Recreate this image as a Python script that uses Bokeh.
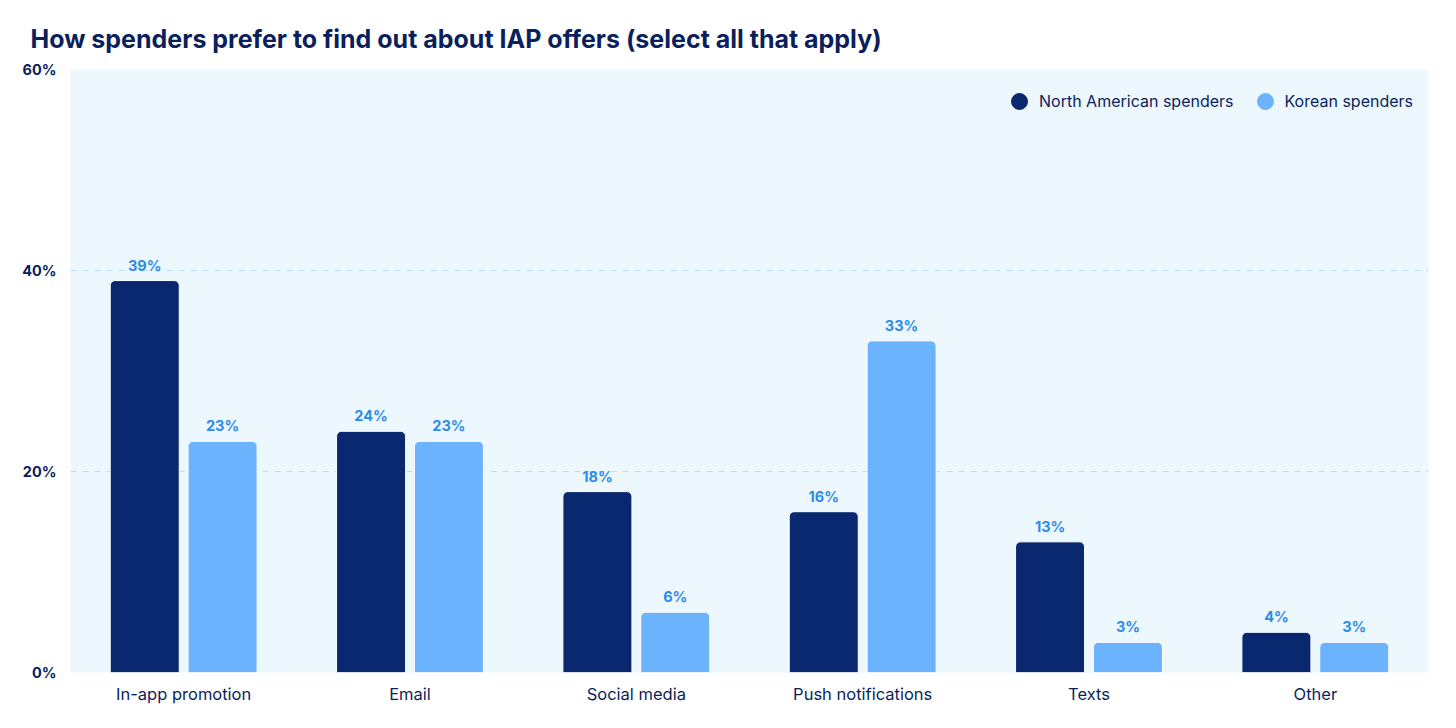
from bokeh.plotting import figure
from bokeh.models import ColumnDataSource, FactorRange, Range1d, Legend, LegendItem, FixedTicker, Title
from bokeh.transform import dodge
from bokeh.core.properties import value
from bokeh.embed import file_html
from bokeh.resources import INLINE

categories = ["In-app promotion", "Email", "Social media", "Push notifications", "Texts", "Other"]
north_american = [39, 24, 18, 16, 13, 4]
korean = [23, 23, 6, 33, 3, 3]
y_ticks = [0, 20, 40, 60]

NAVY = "#0A286F"
LIGHT = "#6BB3FD"
LABEL = "#2D8BEA"
TEXT = "#0B1F5C"
BG = "#EDF7FE"
FONT = "Inter"

source = ColumnDataSource(dict(
    cat=categories,
    na=north_american,
    kr=korean,
    na_lbl=[f"{v}%" for v in north_american],
    kr_lbl=[f"{v}%" for v in korean],
))

p = figure(
    x_range=FactorRange(*categories, range_padding=0),
    y_range=Range1d(0, 60),
    width=1440, height=712,
    output_backend="svg", toolbar_location=None,
    min_border_left=70, min_border_right=12, min_border_bottom=40, min_border_top=69,
)
p.title = Title(text="How spenders prefer to find out about IAP offers (select all that apply)",
                align="left", offset=-40, text_font=FONT, text_font_size="25px",
                text_font_style="bold", text_color=TEXT, standoff=32)

p.background_fill_color = BG
p.border_fill_color = "white"
p.outline_line_color = None

p.xgrid.grid_line_color = None
p.ygrid.grid_line_color = "#BDDCF5"
p.ygrid.grid_line_dash = "6 6"
p.ygrid.grid_line_width = 1
p.ygrid.ticker = FixedTicker(ticks=[20, 40])

p.yaxis.ticker = FixedTicker(ticks=y_ticks)
p.yaxis.major_label_overrides = {t: f"{t}%" for t in y_ticks}
p.yaxis.axis_line_color = None
p.yaxis.major_tick_line_color = None
p.yaxis.minor_tick_line_color = None
p.yaxis.major_label_text_font = FONT
p.yaxis.major_label_text_font_size = "14.5px"
p.yaxis.major_label_text_font_style = "bold"
p.yaxis.major_label_text_color = TEXT
p.yaxis.major_label_standoff = 8

p.xaxis.axis_line_color = None
p.xaxis.major_tick_line_color = None
p.xaxis.minor_tick_line_color = None
p.xaxis.major_label_text_font = FONT
p.xaxis.major_label_text_font_size = "16.5px"
p.xaxis.major_label_text_color = TEXT
p.xaxis.major_label_standoff = 5

p.vbar(x=dodge("cat", -0.172, range=p.x_range), top="na", width=0.305, source=source,
       fill_color=NAVY, line_color="white", line_width=1, border_radius=(5, 5, 0, 0))
p.vbar(x=dodge("cat", 0.172, range=p.x_range), top="kr", width=0.305, source=source,
       fill_color=LIGHT, line_color="white", line_width=1, border_radius=(5, 5, 0, 0))

p.text(x=dodge("cat", -0.172, range=p.x_range), y="na", text="na_lbl", source=source,
       y_offset=-7, text_align="center", text_baseline="bottom",
       text_font=value(FONT), text_font_size="14.5px", text_font_style="bold", text_color=LABEL)
p.text(x=dodge("cat", 0.172, range=p.x_range), y="kr", text="kr_lbl", source=source,
       y_offset=-7, text_align="center", text_baseline="bottom",
       text_font=value(FONT), text_font_size="14.5px", text_font_style="bold", text_color=LABEL)

# legend markers: drawn on a hidden range so only the legend glyphs are visible
p.extra_y_ranges = {"hidden": Range1d(1000, 1001)}
l_na = p.scatter(x="cat", y="na", source=source, size=17, fill_color=NAVY, line_color=NAVY,
                 y_range_name="hidden")
l_kr = p.scatter(x="cat", y="kr", source=source, size=17, fill_color=LIGHT, line_color=LIGHT,
                 y_range_name="hidden")

legend = Legend(items=[LegendItem(label="North American spenders", renderers=[l_na]),
                       LegendItem(label="Korean spenders", renderers=[l_kr])],
                location=(929, 551), orientation="horizontal",
                background_fill_alpha=0, border_line_alpha=0,
                label_text_font=FONT, label_text_font_size="16px", label_text_color=TEXT,
                glyph_width=40, glyph_height=40, spacing=11, margin=0, padding=0,
                label_standoff=0)
p.add_layout(legend)

open("out.html", "w").write(file_html(p, INLINE))
